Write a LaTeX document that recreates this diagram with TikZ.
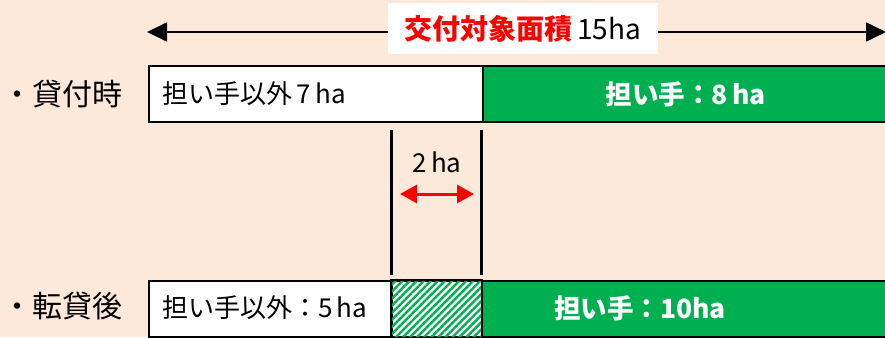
\documentclass[tikz,border=0pt]{standalone}
\usepackage{fontspec}
\setmainfont{Noto Sans CJK JP}
\usetikzlibrary{arrows.meta,patterns.meta}
\definecolor{bgpeach}{HTML}{FCE9DA}
\definecolor{okgreen}{HTML}{00B050}
\definecolor{okred}{HTML}{FF0000}
\tikzset{
  bar/.style={draw=black, line width=1.6pt, anchor=north west, inner sep=0pt},
  rowlabel/.style={anchor=west, font=\fontsize{30}{32}\selectfont, inner sep=0pt},
  intext/.style={anchor=west, font=\fontsize{26}{28}\selectfont, inner sep=0pt},
  greentext/.style={font=\fontsize{26.5}{28}\selectfont\bfseries, text=white, inner sep=0pt},
  guide/.style={line width=3pt, black},
}
\begin{document}
\begin{tikzpicture}[x=1pt,y=-1pt]
\fill[bgpeach] (0,0) rectangle (885,337);
\useasboundingbox (0,0) rectangle (885,337);

% top span arrow
\coordinate (aL) at (147,32);
\coordinate (aR) at (886,32);
\draw[line width=1.8pt, {Triangle[length=20pt,width=19pt]}-{Triangle[length=20pt,width=19pt]}] (aL) -- (aR);
\node[fill=white, minimum width=270pt, minimum height=51pt, inner sep=0pt] (title) at (523,29)
  {\fontsize{28}{30}\selectfont\textcolor{okred}{\bfseries 交付対象面積}\,15ha};

% row 1
\node[rowlabel] (lab1) at (2,94) {・貸付時};
\node[bar, fill=white, minimum width=334pt, minimum height=56pt] (r1a) at (148,65) {};
\node[bar, fill=okgreen, minimum width=405pt, minimum height=56pt] (r1b) at (482,65) {};
\node[intext] (t1a) at (162,94) {担い手以外\,7\,ha};
\node[greentext] (t1b) at (686,94) {担い手：8\,ha};

% guides
\coordinate (g1t) at (391,130);
\coordinate (g1b) at (391,275);
\coordinate (g2t) at (481,130);
\coordinate (g2b) at (481,275);
\draw[guide] (g1t) -- (g1b);
\draw[guide] (g2t) -- (g2b);
\node[font=\fontsize{26}{28}\selectfont, inner sep=0pt] (two) at (437,162) {2\,ha};
\coordinate (dL) at (400,194);
\coordinate (dR) at (474,194);
\draw[okred, line width=3pt, {Triangle[length=17pt,width=18pt]}-{Triangle[length=17pt,width=18pt]}] (dL) -- (dR);

% row 2
\node[rowlabel] (lab2) at (2,306) {・転貸後};
\node[bar, fill=white, minimum width=243pt, minimum height=56pt] (r2a) at (148,280) {};
\node[bar, fill=white, minimum width=90pt, minimum height=56pt] (r2h) at (391,280) {};
\fill[pattern={Lines[angle=45,distance=5pt,line width=2.4pt]}, pattern color=okgreen] (r2h.north west) rectangle (r2h.south east);
\draw[black, line width=1.6pt] (r2h.north west) rectangle (r2h.south east);
\node[bar, fill=okgreen, minimum width=405pt, minimum height=56pt] (r2b) at (481,280) {};
\node[intext] (t2a) at (162,308) {担い手以外：5\,ha};
\node[greentext] (t2b) at (640,308) {担い手：10ha};
\end{tikzpicture}
\end{document}
